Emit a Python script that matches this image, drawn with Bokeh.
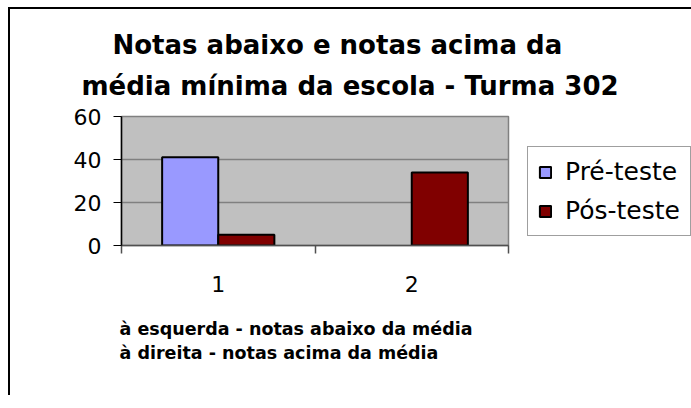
from bokeh.plotting import figure
from bokeh.models import (ColumnDataSource, Range1d, FixedTicker, Legend, LegendItem,
                          Title, CDSView, BooleanFilter)
from bokeh.transform import dodge
from bokeh.embed import file_html
from bokeh.resources import INLINE

# ---- data ----
categories = ["1", "2"]
x_pos = [1, 2]
pre_teste = [41, 0]
pos_teste = [5, 34]
y_ticks = [0, 20, 40, 60]
series_names = ["Pré-teste", "Pós-teste"]
title_lines = ["Notas abaixo e notas acima da", "média mínima da escola - Turma 302"]
note_lines = ["à esquerda - notas abaixo da média", "à direita - notas acima da média"]
colors = ["#9999FF", "#800000"]

FONT = "DejaVu Sans"
BAR_W = 0.29

p = figure(frame_width=387, frame_height=129, title=None,
           x_range=Range1d(0.5, 2.5), y_range=Range1d(0, 60),
           output_backend="svg", toolbar_location=None,
           min_border_left=111, min_border_right=180,
           min_border_top=107, min_border_bottom=150,
           background_fill_color="#C0C0C0", border_fill_color="white",
           outline_line_color="#808080", outline_line_width=1.5)
p.styles = {"border-left": "2px solid black", "border-top": "2px solid black",
            "margin-left": "8px", "margin-top": "7px"}

src = ColumnDataSource(dict(x=x_pos, pre=pre_teste, pos=pos_teste))
view_pre = CDSView(filter=BooleanFilter([v > 0 for v in pre_teste]))
view_pos = CDSView(filter=BooleanFilter([v > 0 for v in pos_teste]))

r_pre = p.vbar(x=dodge("x", -BAR_W / 2, range=p.x_range), top="pre", width=BAR_W,
               source=src, view=view_pre, fill_color=colors[0],
               line_color="black", line_width=2)
r_pos = p.vbar(x=dodge("x", BAR_W / 2, range=p.x_range), top="pos", width=BAR_W,
               source=src, view=view_pos, fill_color=colors[1],
               line_color="black", line_width=2)

# grid
p.xgrid.visible = False
p.ygrid.ticker = FixedTicker(ticks=y_ticks)
p.ygrid.grid_line_color = "#808080"
p.ygrid.grid_line_width = 1.5

# y axis
p.yaxis.ticker = FixedTicker(ticks=y_ticks)
p.yaxis.axis_line_color = "black"
p.yaxis.axis_line_width = 1.5
p.yaxis.major_tick_line_color = "black"
p.yaxis.major_tick_out = 8
p.yaxis.major_tick_in = 0
p.yaxis.minor_tick_line_color = None
p.yaxis.major_label_text_font = FONT
p.yaxis.major_label_text_font_size = "22px"
p.yaxis.major_label_text_color = "black"
p.yaxis.major_label_standoff = 12

# x axis: labels at category centres, tick marks at category boundaries
boundaries = [x - 0.5 for x in x_pos] + [x_pos[-1] + 0.5]
p.xaxis.ticker = FixedTicker(ticks=x_pos, minor_ticks=boundaries)
p.xaxis.major_label_overrides = {x: c for x, c in zip(x_pos, categories)}
p.xaxis.axis_line_color = "#505050"
p.xaxis.axis_line_width = 1.5
p.xaxis.major_tick_line_color = None
p.xaxis.major_tick_out = 8
p.xaxis.major_tick_in = 0
p.xaxis.minor_tick_line_color = "#505050"
p.xaxis.minor_tick_line_width = 1.5
p.xaxis.minor_tick_out = 8
p.xaxis.minor_tick_in = 0
p.xaxis.major_label_text_font = FONT
p.xaxis.major_label_text_font_size = "22px"
p.xaxis.major_label_text_color = "black"
p.xaxis.major_label_standoff = 22

# legend
legend = Legend(items=[LegendItem(label=series_names[0], renderers=[r_pre]),
                       LegendItem(label=series_names[1], renderers=[r_pos])],
                location=(19, 9), orientation="vertical",
                label_text_font=FONT, label_text_font_size="25px",
                label_text_color="black",
                glyph_width=14, glyph_height=14, label_standoff=13,
                padding=10, spacing=10, margin=0,
                border_line_color="#404040", border_line_width=1,
                background_fill_color="white", background_fill_alpha=1.0)
p.add_layout(legend, "right")

# titles (first added sits closest to the plot)
for text, off, so in [(title_lines[1], -40, 32), (title_lines[0], -9, -14)]:
    p.add_layout(Title(text=text, align="left", offset=off, text_font=FONT,
                       text_font_size="26px", text_font_style="bold",
                       text_color="black", standoff=so), "above")

for text, so, va in [(note_lines[0], 44, "bottom"), (note_lines[1], -36, "top")]:
    p.add_layout(Title(text=text, align="left", offset=-2, text_font=FONT,
                       text_font_size="17.5px", text_font_style="bold",
                       text_color="black", standoff=so, vertical_align=va), "below")

open("out.html", "w").write(file_html(p, INLINE))
